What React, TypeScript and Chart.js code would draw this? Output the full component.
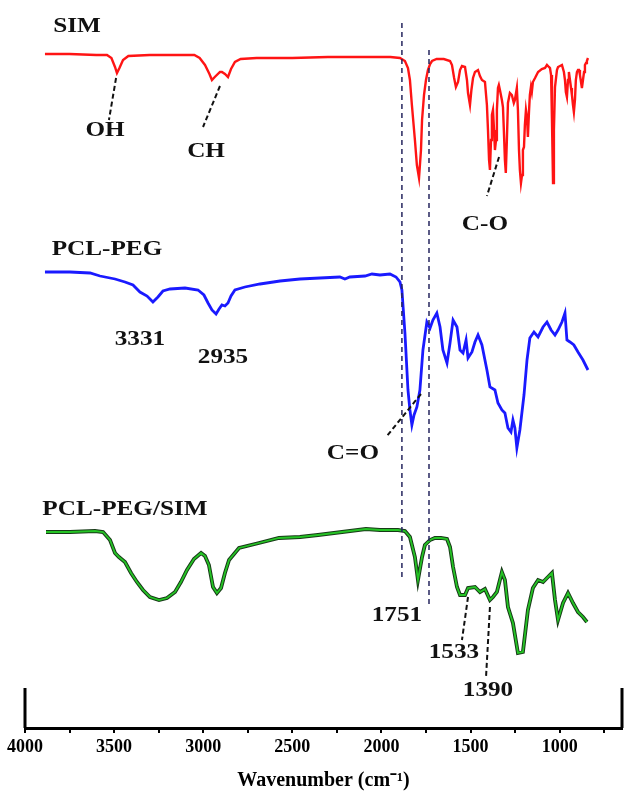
import React, { useEffect, useRef } from "react";
import { Chart, registerables } from "chart.js";

Chart.register(...registerables);

// ---- axis ----
const X_MIN = 650;
const X_MAX = 4000;
const Y_MIN = 0;
const Y_MAX = 72;
const X_TICKS = [750, 1000, 1250, 1500, 1750, 2000, 2250, 2500, 2750, 3000, 3250, 3500, 3750, 4000];
const X_TICK_LABELS = [1000, 1500, 2000, 2500, 3000, 3500, 4000];
const X_TITLE = "Wavenumber (cm\u207B\u00B9)";

// ---- SIM (red), offset transmittance (a.u.) ----
const SIM_WN = [
  3888, 3750, 3600, 3540, 3515, 3495, 3484, 3470, 3450, 3420,
  3300, 3150, 3050, 3020, 2990, 2965, 2951, 2935, 2906, 2895,
  2878, 2861, 2844, 2822, 2790, 2700, 2500, 2300, 2100, 1950,
  1896, 1868, 1851, 1840, 1829, 1812, 1801, 1789, 1778, 1772,
  1761, 1750, 1739, 1727, 1716, 1690, 1650, 1615, 1604, 1592,
  1582, 1570, 1559, 1548, 1531, 1520, 1514, 1503, 1495, 1486,
  1475, 1458, 1447, 1436, 1419, 1408, 1402, 1396, 1391, 1385,
  1380, 1374, 1368, 1363, 1357, 1352, 1346, 1341, 1335, 1324,
  1318, 1313, 1307, 1302, 1296, 1290, 1279, 1268, 1257, 1251,
  1240, 1234, 1228, 1223, 1217, 1211, 1206, 1200, 1195, 1189,
  1183, 1178, 1172, 1167, 1161, 1156, 1150, 1138, 1121, 1100,
  1082, 1071, 1060, 1054, 1048, 1043, 1037, 1032, 1026, 1015,
  1009, 998, 987, 976, 970, 965, 959, 953, 948, 942,
  936, 931, 925, 920, 914, 909, 903, 897, 891, 886,
  880, 875, 869, 863, 858, 852, 847, 841,
];
const SIM_T = [
  67.4, 67.4, 67.3, 67.3, 67.0, 66.1, 65.5, 66.0, 66.8, 67.2,
  67.3, 67.3, 67.3, 67.0, 66.3, 65.4, 64.8, 65.1, 65.6, 65.6,
  65.4, 65.1, 65.9, 66.6, 66.9, 67.0, 67.0, 67.1, 67.1, 67.1,
  67.0, 66.7, 66.0, 64.8, 62.3, 58.8, 56.3, 55.0, 57.8, 60.8,
  63.3, 64.8, 65.8, 66.4, 66.7, 66.9, 66.9, 66.7, 66.3, 65.0,
  64.1, 64.6, 65.8, 66.2, 66.1, 64.8, 63.5, 62.3, 63.8, 65.0,
  65.6, 65.8, 65.2, 64.8, 64.6, 62.3, 59.8, 56.8, 55.8, 58.8,
  61.3, 61.8, 59.8, 57.8, 58.8, 61.8, 64.0, 64.3, 63.8, 62.8,
  62.1, 59.8, 56.8, 55.5, 58.8, 62.5, 63.5, 63.3, 62.5, 62.8,
  64.0, 61.8, 57.8, 55.8, 54.5, 55.3, 57.8, 58.1, 60.3, 61.8,
  61.0, 59.1, 61.6, 63.3, 64.1, 63.6, 64.6, 65.0, 65.6, 65.9,
  66.0, 66.3, 66.1, 66.0, 65.3, 60.8, 54.5, 59.8, 64.1, 65.8,
  66.1, 66.2, 66.3, 65.6, 64.8, 63.6, 63.1, 64.8, 65.6, 64.8,
  64.0, 63.3, 62.3, 61.6, 62.8, 64.8, 65.6, 65.8, 65.8, 65.3,
  64.6, 64.0, 64.8, 65.6, 66.3, 66.5, 66.7, 67.0,
];

// ---- PCL-PEG (blue) ----
const PEG_WN = [
  3888, 3748, 3635, 3579, 3495, 3439, 3394, 3355, 3315, 3282,
  3254, 3226, 3186, 3102, 3029, 2996, 2973, 2951, 2928, 2911,
  2895, 2878, 2861, 2844, 2822, 2766, 2681, 2569, 2457, 2345,
  2233, 2205, 2177, 2092, 2053, 2008, 1952, 1918, 1896, 1885,
  1868, 1851, 1840, 1829, 1817, 1801, 1784, 1767, 1745, 1727,
  1711, 1689, 1671, 1655, 1632, 1615, 1598, 1576, 1559, 1542,
  1525, 1514, 1492, 1475, 1458, 1436, 1408, 1391, 1363, 1346,
  1324, 1307, 1290, 1273, 1262, 1251, 1240, 1223, 1200, 1183,
  1167, 1144, 1121, 1093, 1071, 1048, 1026, 1009, 987, 970,
  959, 942, 920, 897, 869, 841,
];
const PEG_T = [
  45.6, 45.6, 45.5, 45.2, 44.9, 44.6, 44.3, 43.6, 43.2, 42.6,
  43.1, 43.7, 43.9, 44.0, 43.8, 43.3, 42.5, 41.8, 41.4, 41.9,
  42.3, 42.2, 42.5, 43.2, 43.8, 44.1, 44.4, 44.7, 44.9, 45.0,
  45.1, 44.9, 45.1, 45.2, 45.4, 45.3, 45.4, 45.1, 44.6, 43.8,
  39.5, 33.8, 31.8, 30.3, 31.3, 32.1, 33.8, 37.8, 40.6, 40.0,
  40.8, 41.5, 40.1, 37.8, 36.5, 38.5, 40.8, 40.1, 37.8, 37.5,
  38.8, 37.0, 37.6, 38.6, 39.3, 38.3, 35.8, 34.1, 33.8, 32.5,
  31.8, 31.5, 30.0, 29.6, 30.8, 30.0, 28.0, 29.8, 33.3, 36.8,
  39.0, 39.6, 39.1, 40.1, 40.6, 39.8, 39.3, 39.8, 40.6, 41.5,
  38.8, 38.6, 38.3, 37.6, 36.8, 35.8,
];

// ---- PCL-PEG/SIM (green) ----
const MIX_WN = [
  3882, 3748, 3607, 3562, 3523, 3495, 3473, 3439, 3405, 3372,
  3338, 3299, 3248, 3203, 3158, 3125, 3091, 3052, 3012, 2990,
  2968, 2945, 2923, 2900, 2878, 2855, 2799, 2687, 2575, 2457,
  2356, 2221, 2087, 2008, 1907, 1868, 1840, 1812, 1795, 1772,
  1756, 1727, 1700, 1666, 1632, 1615, 1598, 1576, 1559, 1531,
  1514, 1475, 1447, 1419, 1391, 1374, 1352, 1324, 1307, 1290,
  1262, 1234, 1206, 1178, 1150, 1121, 1093, 1071, 1043, 1026,
  1009, 981, 953, 925, 897, 869, 847,
];
const MIX_T = [
  19.6, 19.6, 19.7, 19.6, 18.8, 17.5, 17.1, 16.6, 15.5, 14.6,
  13.8, 13.1, 12.8, 13.0, 13.6, 14.6, 15.8, 16.9, 17.5, 17.2,
  16.3, 14.1, 13.5, 14.0, 15.5, 16.8, 18.0, 18.5, 19.0, 19.1,
  19.3, 19.6, 19.9, 19.8, 19.8, 19.7, 19.1, 17.1, 14.8, 17.1,
  18.3, 18.8, 19.0, 19.0, 18.9, 18.1, 16.1, 14.1, 13.3, 13.3,
  14.0, 14.1, 13.6, 13.9, 12.8, 13.1, 13.6, 15.6, 14.8, 12.1,
  10.5, 7.5, 7.6, 11.8, 14.0, 14.8, 14.6, 15.0, 15.5, 12.8,
  10.8, 12.5, 13.5, 12.5, 11.6, 11.1, 10.6,
];

// ---- annotations (data coordinates) ----
const TEXT_LABELS = [
  { text: "SIM", wn: 3708, t: 70.1 },
  { text: "OH", wn: 3551, t: 59.7 },
  { text: "CH", wn: 2984, t: 57.6 },
  { text: "C-O", wn: 1419, t: 50.3 },
  { text: "PCL-PEG", wn: 3540, t: 47.8 },
  { text: "3331", wn: 3355, t: 38.8 },
  { text: "2935", wn: 2889, t: 37.0 },
  { text: "C=O", wn: 2160, t: 27.4 },
  { text: "PCL-PEG/SIM", wn: 3439, t: 21.8 },
  { text: "1751", wn: 1913, t: 11.2 },
  { text: "1533", wn: 1593, t: 7.5 },
  { text: "1390", wn: 1402, t: 3.7 },
];
const POINTER_LINES = [
  { wn1: 3489, t1: 65.0, wn2: 3529, t2: 60.8 },
  { wn1: 2906, t1: 64.2, wn2: 3001, t2: 60.1 },
  { wn1: 1340, t1: 57.1, wn2: 1408, t2: 53.2 },
  { wn1: 1778, t1: 33.4, wn2: 1969, t2: 29.2 },
  { wn1: 1514, t1: 13.1, wn2: 1548, t2: 8.8 },
  { wn1: 1391, t1: 12.1, wn2: 1413, t2: 5.1 },
];
const GUIDE_LINES = [
  { wn: 1885, t1: 70.5, t2: 15.0 },
  { wn: 1733, t1: 67.8, t2: 12.3 },
];

const SERIF = "'Liberation Serif', 'Times New Roman', serif";

const annotationPlugin = {
  id: "ftirAnnotations",
  afterDatasetsDraw(chart: any) {
    const { ctx, scales, chartArea } = chart;
    const xs = scales.x;
    const ys = scales.y;
    ctx.save();
    // bracket ends of the x axis
    ctx.strokeStyle = "#000";
    ctx.lineWidth = 3;
    ctx.setLineDash([]);
    ctx.beginPath();
    ctx.moveTo(chartArea.left, chartArea.bottom);
    ctx.lineTo(chartArea.left, chartArea.bottom - 40);
    ctx.moveTo(chartArea.right, chartArea.bottom);
    ctx.lineTo(chartArea.right, chartArea.bottom - 40);
    ctx.stroke();

    // vertical guide lines
    ctx.strokeStyle = "#25255e";
    ctx.lineWidth = 1.5;
    ctx.setLineDash([5, 4]);
    for (const g of GUIDE_LINES) {
      const x = xs.getPixelForValue(g.wn);
      ctx.beginPath();
      ctx.moveTo(x, ys.getPixelForValue(g.t1));
      ctx.lineTo(x, ys.getPixelForValue(g.t2));
      ctx.stroke();
    }
    // pointer lines
    ctx.strokeStyle = "#111";
    ctx.lineWidth = 2;
    ctx.setLineDash([5, 3]);
    for (const p of POINTER_LINES) {
      ctx.beginPath();
      ctx.moveTo(xs.getPixelForValue(p.wn1), ys.getPixelForValue(p.t1));
      ctx.lineTo(xs.getPixelForValue(p.wn2), ys.getPixelForValue(p.t2));
      ctx.stroke();
    }
    ctx.setLineDash([]);
    // text
    ctx.fillStyle = "#111";
    ctx.font = `bold 21px ${SERIF}`;
    ctx.textAlign = "center";
    ctx.textBaseline = "middle";
    for (const l of TEXT_LABELS) {
      ctx.save();
      ctx.translate(xs.getPixelForValue(l.wn), ys.getPixelForValue(l.t));
      ctx.scale(1.2, 1);
      ctx.fillText(l.text, 0, 0);
      ctx.restore();
    }
    ctx.restore();
  },
};

function pts(xs: number[], ys: number[]) {
  return xs.map((x, i) => ({ x, y: ys[i] }));
}

export default function App() {
  const ref = useRef<HTMLCanvasElement>(null);
  useEffect(() => {
    if (!ref.current) return;
    const chart = new Chart(ref.current, {
      type: "line",
      data: {
        datasets: [
          { label: "SIM", data: pts(SIM_WN, SIM_T), borderColor: "#ff1414", borderWidth: 2.4, pointRadius: 0, tension: 0, order: 2 },
          { label: "PCL-PEG", data: pts(PEG_WN, PEG_T), borderColor: "#1a1aff", borderWidth: 2.8, pointRadius: 0, tension: 0, order: 2 },
          { label: "PCL-PEG/SIM edge", data: pts(MIX_WN, MIX_T), borderColor: "#173a17", borderWidth: 3.8, pointRadius: 0, tension: 0, order: 1 },
          { label: "PCL-PEG/SIM", data: pts(MIX_WN, MIX_T), borderColor: "#25c425", borderWidth: 1.8, pointRadius: 0, tension: 0, order: 0 },
        ],
      },
      options: {
        animation: false,
        responsive: false,
        layout: { padding: { left: 25, right: 2, top: 8, bottom: 0 } },
        plugins: { legend: { display: false }, tooltip: { enabled: false } },
        scales: {
          x: {
            type: "linear",
            min: X_MIN,
            max: X_MAX,
            reverse: true,
            afterBuildTicks: (s: any) => {
              s.ticks = X_TICKS.map((v) => ({ value: v }));
            },
            afterFit: (s: any) => {
              s.height = 65;
            },
            ticks: {
              autoSkip: false,
              maxRotation: 0,
              padding: 4,
              color: "#000",
              font: { family: SERIF, weight: "bold", size: 18 },
              callback: (v: any) => (X_TICK_LABELS.includes(Number(v)) ? String(v) : ""),
            },
            grid: { drawOnChartArea: false, drawTicks: true, tickLength: 5, color: "#000", lineWidth: 2 },
            border: { display: true, color: "#000", width: 3 },
            title: {
              display: true,
              text: X_TITLE,
              color: "#000",
              font: { family: SERIF, weight: "bold", size: 20 },
              padding: { top: 0, bottom: 0 },
            },
          },
          y: { display: false, min: Y_MIN, max: Y_MAX },
        },
      } as any,
      plugins: [annotationPlugin],
    });
    return () => chart.destroy();
  }, []);
  return (
    <div style={{ position: "absolute", left: 0, top: 0, width: 624, height: 793, background: "#fff" }}>
      <canvas ref={ref} width={624} height={793} style={{ display: "block", width: 624, height: 793 }} />
    </div>
  );
}
